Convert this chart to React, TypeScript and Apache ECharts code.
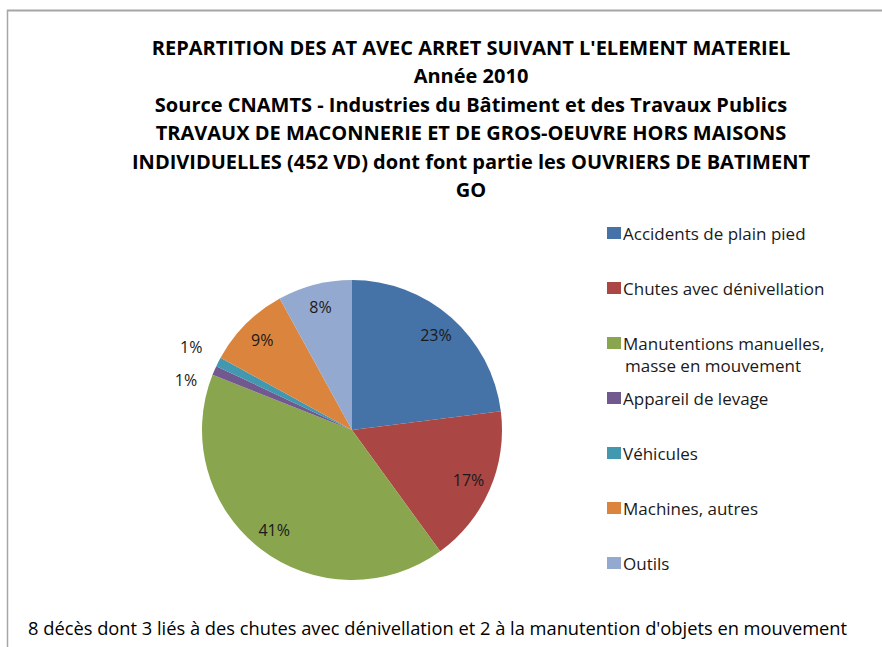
import React, { useEffect, useRef } from "react";
import * as echarts from "echarts";

const titleLines = [
  "REPARTITION DES AT AVEC ARRET SUIVANT L'ELEMENT MATERIEL",
  "Année 2010",
  "Source CNAMTS - Industries du Bâtiment et des Travaux Publics",
  "TRAVAUX DE MACONNERIE ET DE GROS-OEUVRE HORS MAISONS",
  "INDIVIDUELLES (452 VD) dont font partie les OUVRIERS DE BATIMENT",
  "GO",
];
const categories = [
  "Accidents de plain pied",
  "Chutes avec dénivellation",
  "Manutentions manuelles, masse en mouvement",
  "Appareil de levage",
  "Véhicules",
  "Machines, autres",
  "Outils",
];
const percents = [23, 17, 41, 1, 1, 9, 8];
const colors = ["#4572A7", "#AA4643", "#89A54E", "#71588F", "#4198AF", "#DB843D", "#93A9CF"];
const footnote =
  "8 décès dont 3 liés à des chutes avec dénivellation et 2 à la manutention d'objets en mouvement";

const FONT = "'Open Sans'";

export default function App() {
  const ref = useRef<HTMLDivElement>(null);
  useEffect(() => {
    if (!ref.current) return;
    const chart = echarts.init(ref.current, undefined, { renderer: "svg" });
    const data = categories.map((name, i) => ({
      name,
      value: percents[i],
      itemStyle: { color: colors[i] },
    }));
    const labelData = categories.map((name, i) => {
      const small = percents[i] < 2;
      return {
        name,
        value: percents[i],
        label: small
          ? { position: "outside", distanceToLabelLine: 4 }
          : { position: "inside" },
        labelLine: { show: false, length: 10, length2: 0 },
      };
    });
    chart.setOption({
      animation: false,
      color: colors,
      legend: {
        orient: "vertical",
        left: 607,
        top: 224,
        padding: 0,
        itemGap: 37,
        itemWidth: 14,
        itemHeight: 12,
        icon: "rect",
        selectedMode: false,
        data: categories,
        formatter: (name: string) =>
          name === categories[2] ? "Manutentions manuelles," : name,
        textStyle: {
          fontFamily: FONT,
          fontSize: 17,
          lineHeight: 18,
          color: "#1a1a1a",
          padding: [0, 0, 0, -3],
        },
      },
      graphic: [
        {
          type: "line",
          shape: { x1: 7, y1: 10.5, x2: 882, y2: 10.5 },
          style: { stroke: "#a6a6a6", lineWidth: 2 },
          silent: true,
        },
        {
          type: "line",
          shape: { x1: 7.5, y1: 10, x2: 7.5, y2: 647 },
          style: { stroke: "#a6a6a6", lineWidth: 1.5 },
          silent: true,
        },
        {
          type: "text",
          x: 471,
          y: 33,
          style: {
            text: titleLines.join("\n"),
            font: `bold 20px ${FONT}`,
            fill: "#000",
            align: "center",
            verticalAlign: "top",
            lineHeight: 28.5,
          },
          silent: true,
        },
        {
          type: "text",
          left: 625,
          top: 357,
          style: {
            text: "masse en mouvement",
            font: `17px ${FONT}`,
            fill: "#1a1a1a",
          },
          silent: true,
        },
        {
          type: "text",
          left: 28,
          top: 618,
          style: {
            text: footnote,
            font: `18.3px ${FONT}`,
            fill: "#000",
          },
          silent: true,
        },
      ],
      series: [
        {
          type: "pie",
          center: [352, 430],
          radius: 150,
          startAngle: 90,
          clockwise: true,
          silent: true,
          label: { show: false },
          labelLine: { show: false },
          data,
        },
        {
          type: "pie",
          center: [352, 430],
          radius: [98, 150],
          startAngle: 90,
          clockwise: true,
          silent: true,
          avoidLabelOverlap: false,
          itemStyle: { color: "transparent" },
          label: {
            show: true,
            formatter: (p: any) => `${p.value}%`,
            fontFamily: FONT,
            fontSize: 16,
            color: "#1a1a1a",
          },
          labelLayout: (p: any) => {
            if (p.dataIndex === 3) return { dy: 14, dx: -4 };
            if (p.dataIndex === 4) return { dy: -10, dx: -3 };
            return {};
          },
          data: labelData,
        },
      ],
    });
    return () => chart.dispose();
  }, []);
  return (
    <div
      ref={ref}
      style={{ position: "fixed", left: 0, top: 0, width: 882, height: 647, background: "#fff" }}
    />
  );
}
